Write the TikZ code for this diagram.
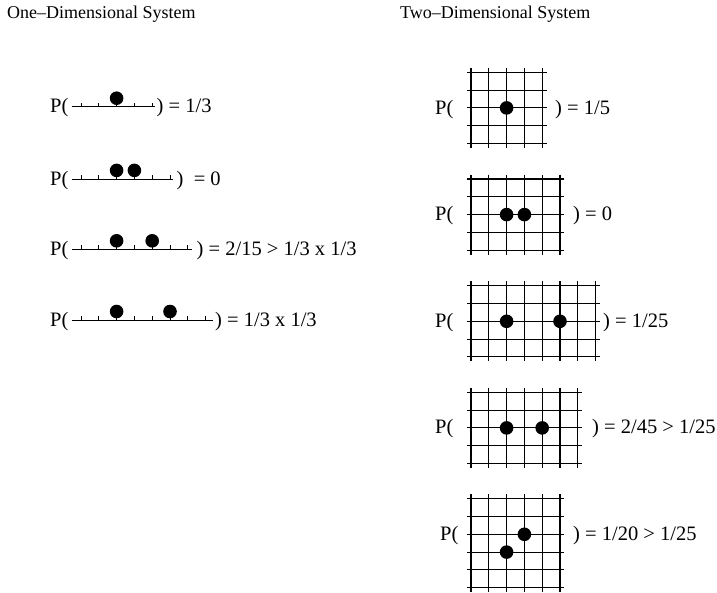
\documentclass[tikz,border=0pt]{standalone}
\usepackage{fontspec}
\setmainfont{Liberation Serif}
\usetikzlibrary{positioning}
% one-dimensional chain: #1 = y of line, #2 = last tick, #3 = right end
\newcommand{\chain}[3]{%
  \draw[axis] (71.7,#1) -- (#3,#1);
  \foreach \k in {0,...,#2} \draw[axis] ({81+17.8*\k},#1) -- ++(0,-4);
}
% square lattice: #1,#2 = top left crossing, #3 = columns, #4 = rows
\newcommand{\lattice}[4]{%
  \foreach \i in {1,...,#3} \draw[lat] ({#1+17.8*(\i-1)},#2-4.4) -- ++(0,{17.8*(#4-1)+8.8});
  \foreach \j in {1,...,#4} \draw[lat] (#1-4.4,{#2+17.8*(\j-1)}) -- ++({17.8*(#3-1)+8.8},0);
}

\begin{document}
\begin{tikzpicture}[
  x=1pt, y=-1pt,
  lbl/.style={anchor=base west, inner sep=0pt, font=\fontsize{20.5}{24}\selectfont},
  ttl/.style={anchor=base west, inner sep=0pt, font=\fontsize{18}{22}\selectfont},
  ball/.style={circle, fill=black, inner sep=0pt, minimum size=13.6pt},
  axis/.style={line width=0.9pt},
  lat/.style={line width=1.1pt},
]
\useasboundingbox (0,0) rectangle (717,592);
% ---------- One-Dimensional ----------
\begin{scope}
  \node[ttl] (t1) at (7,18) {One–Dimensional System};
  % single particle
  \node[lbl] (pa) at (50,112.7) {P(};
  \chain{106.7}{4}{155}
  \node[ball] (a1) at (116.6,98.2) {};
  \node[lbl] (ea) at (156.5,112.7) {) = 1/3};
  % neighbours
  \node[lbl] (pb) at (50,185) {P(};
  \chain{179}{5}{173}
  \node[ball] (b1) at (116.6,170.4) {};
  \node[ball] (b2) at (134.4,170.4) {};
  \node[lbl] (eb) at (176.5,185) {)\ \ = 0};
  % one site apart
  \node[lbl] (pc) at (50,255.3) {P(};
  \chain{249.3}{6}{191.7}
  \node[ball] (c1) at (116.6,240.8) {};
  \node[ball] (c2) at (152.2,240.8) {};
  \node[lbl] (ec) at (196.5,255.3) {) = 2/15 > 1/3 x 1/3};
  % two sites apart
  \node[lbl] (pd) at (50,326) {P(};
  \chain{320}{7}{213.3}
  \node[ball] (d1) at (116.6,311.5) {};
  \node[ball] (d2) at (170,311.5) {};
  \node[lbl] (ed) at (215,326) {) = 1/3 x 1/3};
\end{scope}
% ---------- Two-Dimensional ----------
\begin{scope}
  \node[ttl] (t2) at (400,18) {Two–Dimensional System};
  % single particle
  \node[lbl] (qa) at (435,114.3) {P(};
  \lattice{471}{72.3}{5}{5}
  \node[ball] (g1) at (506.6,107.9) {};
  \node[lbl] (fa) at (555,114.3) {) = 1/5};
  % neighbours
  \node[lbl] (qb) at (435,220.6) {P(};
  \lattice{471}{179}{6}{5}
  \node[ball] (h1) at (506.6,214.6) {};
  \node[ball] (h2) at (524.4,214.6) {};
  \node[lbl] (fb) at (573,220.6) {) = 0};
  % far apart
  \node[lbl] (qc) at (435,327.3) {P(};
  \lattice{471}{285.7}{8}{5}
  \node[ball] (k1) at (506.6,321.3) {};
  \node[ball] (k2) at (560,321.3) {};
  \node[lbl] (fc) at (603,327.3) {) = 1/25};
  % one site apart
  \node[lbl] (qd) at (435,433.9) {P(};
  \lattice{471}{392.3}{7}{5}
  \node[ball] (m1) at (506.6,427.9) {};
  \node[ball] (m2) at (542.2,427.9) {};
  \node[lbl] (fd) at (592,433.9) {) = 2/45 > 1/25};
  % diagonal
  \node[lbl] (qe) at (440,540.3) {P(};
  \lattice{471}{498.7}{6}{6}
  \node[ball] (n1) at (524.4,534.3) {};
  \node[ball] (n2) at (506.6,552.1) {};
  \node[lbl] (fe) at (573,540.3) {) = 1/20 > 1/25};
\end{scope}
\end{tikzpicture}
\end{document}
